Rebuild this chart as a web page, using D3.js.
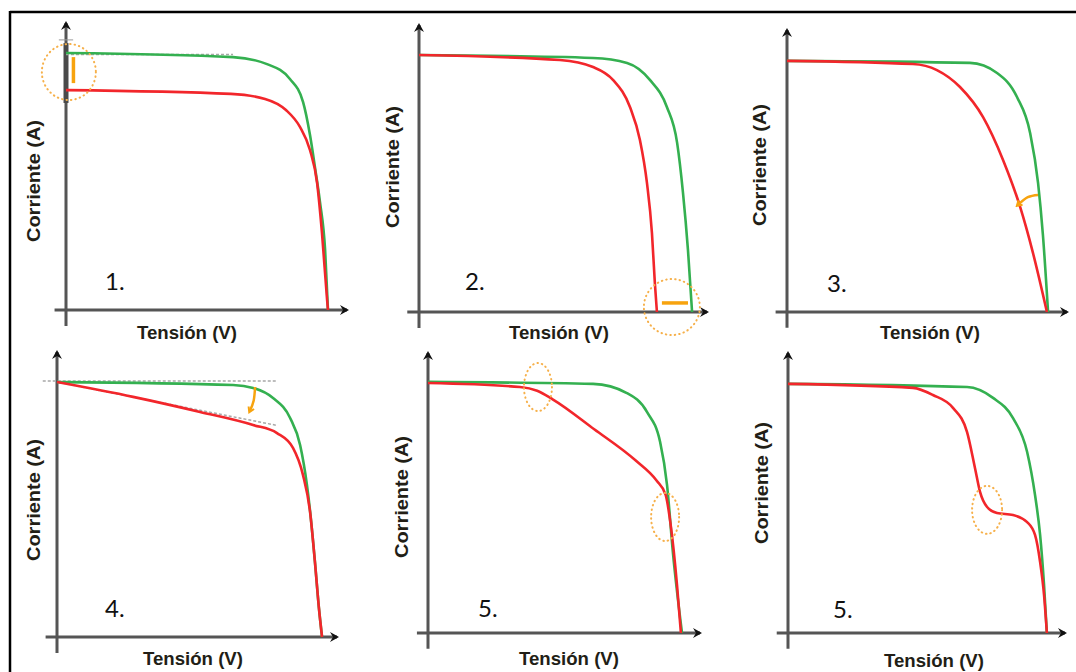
<!DOCTYPE html>
<html>
<head>
<meta charset="utf-8">
<script src="https://cdn.jsdelivr.net/npm/d3@7"></script>
<style>
  body { margin: 0; background: #fff; }
  svg { display: block; }
  .axis-label { font-family: "Liberation Sans", Arial, sans-serif; font-weight: bold; font-size: 19px; fill: #221e16; }
  .panel-num { font-family: Lato, "Open Sans", sans-serif; font-size: 24px; fill: #111; }
</style>
</head>
<body>
<svg width="1076" height="672"></svg>
<script>
// values, in % of each panel's axis length (V, I)
const panelLabels = ["1.", "2.", "3.", "4.", "5.", "5."];
const xLabel = "Tensión (V)";
const yLabel = "Corriente (A)";

const green1 = [[0, 88.0], [58.4, 86.6], [70.3, 84.2], [78.3, 79.1], [82.9, 71.2], [85.3, 60.0], [87.1, 48.6], [88.8, 37.0], [90.6, 20.5], [91.6, 0]];
const red1 = [[0, 75.3], [57.7, 74.0], [69.6, 72.3], [76.9, 68.5], [81.8, 62.7], [85.3, 54.8], [87.8, 43.5], [89.5, 26.4], [91.3, 3.4], [91.6, 0]];

const green2 = [[0, 88.0], [59.4, 87.0], [71.0, 85.3], [78.8, 79.5], [84.6, 70.2], [88.1, 57.9], [90.1, 40.8], [91.8, 21.2], [93.2, 0]];
const red2 = [[0, 88.0], [48.1, 86.3], [59.4, 83.9], [66.2, 79.5], [72.0, 70.2], [75.4, 58.9], [77.8, 44.2], [79.5, 27.1], [80.5, 9.9], [81.2, 0]];

const green3 = [[0, 87.5], [64.2, 86.8], [73.7, 83.3], [80.7, 74.9], [85.3, 62.4], [88.1, 44.9], [89.8, 26.8], [91.6, 0]];
const red3 = [[0, 87.5], [44.2, 86.4], [52.6, 84.3], [60.7, 78.4], [68.8, 67.9], [75.8, 53.0], [81.8, 36.6], [86.3, 20.6], [91.2, 0]];

const green4 = [[0, 87.9], [61.8, 86.9], [68.8, 85.9], [75.8, 82.4], [81.8, 75.5], [85.3, 66.2], [87.7, 52.4], [88.8, 43.4], [90.5, 26.0], [91.9, 10.0], [93.0, 0]];
const red4 = [[0, 87.9], [26.7, 82.8], [50.2, 77.6], [68.8, 73.1], [77.2, 70.3], [82.8, 65.2], [86.3, 55.9], [88.8, 43.1], [90.5, 25.9], [91.9, 10.0], [93.0, 0]];

const green5 = [[0, 88.1], [59.6, 87.4], [71.8, 84.2], [79.1, 77.5], [83.8, 67.0], [86.3, 51.9], [88.4, 28.4], [91.7, 0]];
const red5 = [[0, 87.7], [33.2, 86.3], [39.4, 85.0], [45.0, 82.0], [60.0, 71.5], [75.0, 60.5], [82.5, 53.5], [85.8, 48.5], [87.6, 38.0], [89.9, 16.8], [91.3, 0]];

const green6 = [[0, 87.4], [63.5, 86.3], [72.7, 82.5], [79.8, 75.4], [84.8, 63.5], [87.6, 48.4], [89.4, 34.4], [90.8, 16.8], [91.8, 0]];
const red6 = [[0, 87.4], [44.3, 86.0], [51.4, 83.5], [58.5, 79.0], [63.5, 70.5], [66.3, 57.9], [68.1, 49.5], [70.6, 44.2], [74.1, 42.1], [79.8, 41.4], [84.8, 38.9], [87.6, 34.4], [89.4, 24.9], [90.8, 13.3], [91.8, 0]];

const healthy = [green1, green2, green3, green4, green5, green6];
const faulty = [red1, red2, red3, red4, red5, red6];

// grey reference lines [panel, [[V, I], [V, I]]]
const guides = [
  [0, [[0, 87.5], [58.4, 87.5]]],
  [3, [[-5, 88.3], [77, 88.3]]],
  [3, [[0, 87.9], [77, 73.0]]],
];
// dotted orange rings [panel, V, I, rx, ry]
const rings = [
  [0, 1.0, 81.5, 27, 28],
  [1, 86.3, 1.7, 28, 28],
  [4, 39.7, 86.3, 14, 24],
  [4, 85.6, 40.7, 14, 24],
  [5, 70.6, 43.2, 15, 24],
];
// orange bars / arrows [panel, points, arrowhead]
const marks = [
  [0, [[2.6, 86.6], [2.6, 77.7]], false],
  [1, [[82.9, 3.1], [91.8, 3.1]], false],
  [2, [[88.1, 40.8], [84.5, 40.0], [80.9, 37.2]], true],
  [3, [[69.5, 86.2], [69.0, 81.5], [67.6, 77.8]], true],
];

// panel frames in page pixels
const layout = [
  { ox: 66, oy: 310, tip: 352, top: 18, num: [105, 290], xl: [187, 339], yl: [33, 181] },
  { ox: 419, oy: 312, tip: 712, top: 20, num: [465, 290], xl: [559, 339], yl: [392, 167] },
  { ox: 787, oy: 312, tip: 1072, top: 25, num: [827, 292], xl: [930, 339], yl: [759, 165] },
  { ox: 57, oy: 637, tip: 342, top: 347, num: [105, 617], xl: [193, 665], yl: [33, 500] },
  { ox: 428, oy: 633, tip: 705, top: 348, num: [478, 617], xl: [569, 665], yl: [401, 497] },
  { ox: 788, oy: 633, tip: 1070, top: 348, num: [833, 618], xl: [934, 667], yl: [761, 483] },
];

const svg = d3.select("svg");
const defs = svg.append("defs");

defs.append("marker")
  .attr("id", "axis-arrow")
  .attr("markerUnits", "userSpaceOnUse")
  .attr("viewBox", "-2 -6 12 12")
  .attr("refX", 6).attr("refY", 0)
  .attr("markerWidth", 12).attr("markerHeight", 12)
  .attr("orient", "auto")
  .append("path")
  .attr("d", "M-1,-5 L8,0 L-1,5 L2,0 Z")
  .attr("fill", "#111");

defs.append("marker")
  .attr("id", "orange-arrow")
  .attr("markerUnits", "userSpaceOnUse")
  .attr("viewBox", "-4 -4 8 8")
  .attr("refX", 1).attr("refY", 0)
  .attr("markerWidth", 8).attr("markerHeight", 8)
  .attr("orient", "auto")
  .append("path")
  .attr("d", "M-3,-3 L2,0 L-3,3")
  .attr("fill", "none")
  .attr("stroke", "#f7a30e")
  .attr("stroke-width", 2);

// outer frame
svg.append("line").attr("x1", 10).attr("x2", 1076).attr("y1", 12).attr("y2", 12)
  .attr("stroke", "#000").attr("stroke-width", 2.5);
svg.append("line").attr("x1", 10).attr("x2", 10).attr("y1", 11).attr("y2", 672)
  .attr("stroke", "#000").attr("stroke-width", 2.5);

layout.forEach((p, i) => {
  const x = d3.scaleLinear([0, 100], [p.ox, p.tip]);
  const y = d3.scaleLinear([0, 100], [p.oy, p.top]);
  const g = svg.append("g");

  const line = d3.line()
    .x(d => x(d[0]))
    .y(d => y(d[1]));

  // axes
  g.append("line")
    .attr("x1", x(-4)).attr("x2", x(100) - 5)
    .attr("y1", y(0)).attr("y2", y(0))
    .attr("stroke", "#555").attr("stroke-width", 3)
    .attr("marker-end", "url(#axis-arrow)");
  g.append("line")
    .attr("x1", x(0)).attr("x2", x(0))
    .attr("y1", y(-5.5)).attr("y2", y(100) + 5)
    .attr("stroke", "#555").attr("stroke-width", 3)
    .attr("marker-end", "url(#axis-arrow)");

  if (i === 0) {
    g.append("line")
      .attr("x1", x(0)).attr("x2", x(0))
      .attr("y1", y(91.4)).attr("y2", y(70.9))
      .attr("stroke", "#4a4a4a").attr("stroke-width", 5);
    g.append("line")
      .attr("x1", x(-2.5)).attr("x2", x(2.5))
      .attr("y1", y(92.5)).attr("y2", y(92.5))
      .attr("stroke", "#999").attr("stroke-width", 1);
  }

  guides.filter(d => d[0] === i).forEach(d => {
    g.append("path")
      .attr("d", line(d[1]))
      .attr("fill", "none")
      .attr("stroke", "#a8a8a8")
      .attr("stroke-width", 1.5)
      .attr("stroke-dasharray", "3,2");
  });

  const curve = d3.line()
    .x(d => x(d[0]))
    .y(d => y(d[1]))
    .curve(d3.curveMonotoneX);

  g.append("path")
    .attr("d", curve(healthy[i]))
    .attr("fill", "none")
    .attr("stroke", "#34b050")
    .attr("stroke-width", 2.6)
    .attr("stroke-linejoin", "round");

  g.append("path")
    .attr("d", curve(faulty[i]))
    .attr("fill", "none")
    .attr("stroke", "#f2262b")
    .attr("stroke-width", 2.6)
    .attr("stroke-linejoin", "round");

  rings.filter(d => d[0] === i).forEach(d => {
    g.append("ellipse")
      .attr("cx", x(d[1])).attr("cy", y(d[2]))
      .attr("rx", d[3]).attr("ry", d[4])
      .attr("fill", "none")
      .attr("stroke", "#f6b04a")
      .attr("stroke-width", 2)
      .attr("stroke-linecap", "round")
      .attr("stroke-dasharray", "0.5,4");
  });

  marks.filter(d => d[0] === i).forEach(d => {
    g.append("path")
      .attr("d", d3.line().x(v => x(v[0])).y(v => y(v[1])).curve(d3.curveNatural)(d[1]))
      .attr("fill", "none")
      .attr("stroke", "#f7a30e")
      .attr("stroke-width", d[2] ? 2.5 : 3.5)
      .attr("marker-end", d[2] ? "url(#orange-arrow)" : null);
  });

  g.append("text")
    .attr("class", "panel-num")
    .attr("x", p.num[0]).attr("y", p.num[1])
    .text(panelLabels[i]);

  g.append("text")
    .attr("class", "axis-label")
    .attr("x", p.xl[0]).attr("y", p.xl[1])
    .attr("text-anchor", "middle")
    .attr("textLength", 100)
    .attr("lengthAdjust", "spacingAndGlyphs")
    .text(xLabel);

  g.append("text")
    .attr("class", "axis-label")
    .attr("transform", `translate(${p.yl[0]},${p.yl[1]}) rotate(-90)`)
    .attr("text-anchor", "middle")
    .attr("dominant-baseline", "central")
    .attr("textLength", 122)
    .attr("lengthAdjust", "spacingAndGlyphs")
    .text(yLabel);
});
</script>
</body>
</html>
